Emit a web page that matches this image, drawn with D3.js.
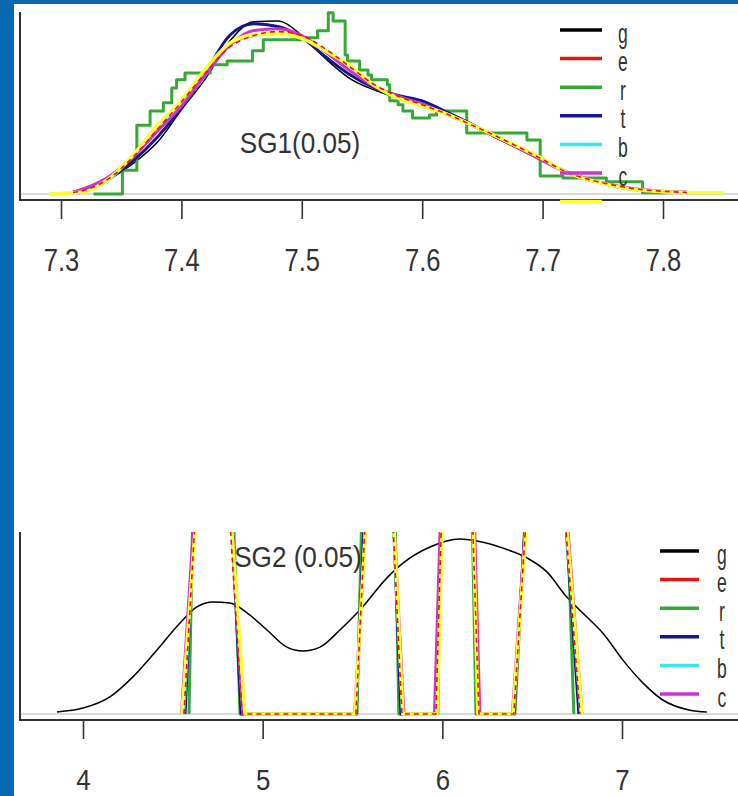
<!DOCTYPE html>
<html>
<head>
<meta charset="utf-8">
<script src="https://cdn.jsdelivr.net/npm/d3@7"></script>
<style>
  body { margin: 0; background: #0a68b0; }
  svg { display: block; }
</style>
</head>
<body>
<svg width="738" height="796"></svg>
<script>
// ---------- SG1 (top panel) ----------
var sg1Grid = [7.29, 7.30, 7.31, 7.32, 7.34, 7.36, 7.38, 7.40, 7.42, 7.44, 7.46, 7.48, 7.50, 7.52, 7.54, 7.56,
               7.58, 7.60, 7.62, 7.64, 7.66, 7.68, 7.70, 7.72, 7.74, 7.76, 7.78, 7.80, 7.82, 7.84, 7.85];
var sg1G = [null, null, 0.05, 0.12, 0.38, 0.78, 1.32, 2.15, 2.95, 3.90, 4.40, 4.42, 4.05, 3.45, 2.95, 2.66,
            2.45, 2.26, 2.03, 1.77, 1.45, 1.16, 0.86, 0.56, 0.36, 0.22, 0.12, 0.05, null, null, null];
var sg1E = [null, null, 0.04, 0.10, 0.40, 0.95, 1.65, 2.35, 3.10, 3.75, 4.05, 4.15, 4.05, 3.70, 3.25, 2.80,
            2.50, 2.28, 2.05, 1.78, 1.50, 1.20, 0.88, 0.56, 0.36, 0.22, 0.12, 0.07, 0.04, null, null];
var sg1T = [null, null, 0.05, 0.12, 0.40, 0.85, 1.45, 2.20, 3.10, 4.05, 4.35, 4.28, 4.00, 3.50, 3.05, 2.72,
            2.52, 2.38, 2.10, 1.80, 1.48, 1.17, 0.86, 0.56, 0.36, 0.20, 0.10, 0.05, null, null, null];
var sg1B = [0.00, 0.01, 0.03, 0.07, 0.38, 0.98, 1.72, 2.38, 3.15, 3.82, 4.05, 4.10, 3.98, 3.66, 3.26, 2.78,
            2.46, 2.25, 2.05, 1.78, 1.50, 1.20, 0.90, 0.56, 0.35, 0.20, 0.10, 0.06, 0.04, 0.03, 0.03];
var sg1C = [null, null, 0.05, 0.15, 0.45, 0.95, 1.60, 2.25, 3.05, 3.80, 4.18, 4.22, 4.05, 3.62, 3.15, 2.75,
            2.50, 2.30, 2.05, 1.78, 1.48, 1.18, 0.85, 0.55, 0.35, 0.22, 0.12, 0.07, 0.05, null, null];
var sg1Y = [0.00, 0.01, 0.03, 0.06, 0.40, 1.00, 1.75, 2.40, 3.20, 3.85, 4.07, 4.10, 3.98, 3.65, 3.28, 2.78,
            2.45, 2.25, 2.05, 1.78, 1.50, 1.20, 0.90, 0.55, 0.35, 0.20, 0.10, 0.06, 0.04, 0.03, 0.03];
// r is a step estimate
var sg1RX = [7.327, 7.351, 7.363, 7.374, 7.385, 7.392, 7.396, 7.403, 7.424, 7.438, 7.459, 7.468, 7.499, 7.513,
             7.522, 7.526, 7.536, 7.538, 7.548, 7.555, 7.558, 7.571, 7.573, 7.580, 7.584, 7.592, 7.606, 7.612,
             7.637, 7.662, 7.687, 7.698, 7.717, 7.753, 7.783, 7.806];
var sg1RY = [0, 0.61, 1.76, 2.12, 2.33, 2.71, 2.92, 3.09, 3.30, 3.40, 3.66, 3.94, 3.99, 4.17,
             4.63, 4.42, 3.55, 3.40, 3.17, 3.04, 2.92, 2.79, 2.38, 2.28, 2.12, 1.94, 2.02, 2.12,
             1.56, 1.56, 1.38, 0.46, 0.41, 0.31, 0.03, 0.03];
var sg1Ticks = [7.3, 7.4, 7.5, 7.6, 7.7, 7.8];

// ---------- SG2 (bottom panel) ----------
var sg2GX = [3.855, 4.0, 4.15, 4.278, 4.412, 4.540, 4.634, 4.723, 4.818, 4.913, 5.024, 5.135, 5.224, 5.319, 5.430, 5.541,
             5.692, 5.781, 5.931, 6.098, 6.193, 6.337, 6.471, 6.582, 6.693, 6.805, 6.894, 7.005, 7.116, 7.227, 7.378, 7.472];
var sg2GY = [0.006, 0.017, 0.049, 0.106, 0.183, 0.26, 0.306, 0.32, 0.317, 0.289, 0.24, 0.191, 0.18, 0.191, 0.24, 0.297,
             0.389, 0.431, 0.477, 0.50, 0.494, 0.474, 0.446, 0.406, 0.334, 0.277, 0.231, 0.154, 0.089, 0.04, 0.011, 0.006];
// the other estimators pile up in narrow blocks that run off the top of the panel
var sg2Level = [0, 0.6, 0.6, 0, 0, 0.6, 0.6, 0, 0, 0.6, 0.6, 0, 0, 0.6, 0.6, 0];
var sg2EX = [4.562, 4.629, 4.812, 4.885, 5.519, 5.575, 5.720, 5.775, 5.964, 5.998, 6.165, 6.204, 6.398, 6.471, 6.677, 6.766];
var sg2RX = [4.590, 4.612, 4.835, 4.874, 5.525, 5.553, 5.736, 5.758, 5.975, 5.992, 6.165, 6.187, 6.404, 6.465, 6.693, 6.732];
var sg2TX = [4.568, 4.623, 4.824, 4.880, 5.519, 5.570, 5.725, 5.770, 5.964, 5.995, 6.170, 6.200, 6.398, 6.468, 6.680, 6.760];
var sg2BX = [4.560, 4.630, 4.820, 4.890, 5.516, 5.578, 5.722, 5.778, 5.968, 6.000, 6.168, 6.200, 6.395, 6.473, 6.680, 6.770];
var sg2CX = [4.548, 4.623, 4.824, 4.890, 5.512, 5.580, 5.725, 5.786, 5.956, 5.992, 6.176, 6.209, 6.390, 6.471, 6.688, 6.777];
var sg2YX = [4.551, 4.634, 4.818, 4.901, 5.514, 5.580, 5.725, 5.781, 5.970, 6.003, 6.170, 6.198, 6.393, 6.476, 6.682, 6.777];
var sg2Ticks = [4, 5, 6, 7];

var legendLabels = ["g", "e", "r", "t", "b", "c"];
var colors = { g: "#000000", e: "#e01515", r: "#35a835", t: "#15158f", b: "#35e8ee", c: "#cc35cc", y: "#ffff30" };
var widths = { g: 1.5, e: 1.6, r: 3, t: 3, b: 3, c: 3, y: 3.5 };
var dashes = { e: "5,4" };
var font = "'Liberation Sans', Arial, sans-serif";

var svg = d3.select("svg");

svg.append("rect").attr("width", 738).attr("height", 796).attr("fill", "#0a68b0");
svg.append("rect").attr("x", 14).attr("y", 4).attr("width", 724).attr("height", 792).attr("fill", "#ffffff");

function zip(xs, ys) {
    return xs.map(function (v, i) { return [v, ys[i]]; });
}

function drawPanel(p) {
    var g = svg.append("g");

    // zero line
    g.append("line")
        .attr("x1", 20).attr("x2", 738)
        .attr("y1", p.y(0)).attr("y2", p.y(0))
        .attr("stroke", "#b4b4b4").attr("stroke-width", 1);

    // axes
    g.append("line")
        .attr("x1", 20).attr("x2", 20)
        .attr("y1", p.top).attr("y2", p.axisY)
        .attr("stroke", "#333").attr("stroke-width", 2);
    g.append("line")
        .attr("x1", 19).attr("x2", 738)
        .attr("y1", p.axisY).attr("y2", p.axisY)
        .attr("stroke", "#333").attr("stroke-width", 2);

    var axis = d3.axisBottom(p.x).tickValues(p.ticks).tickSize(p.tickLen).tickSizeOuter(0)
        .tickFormat(d3.format(p.fmt));
    var ax = g.append("g")
        .attr("transform", "translate(0," + p.axisY + ")")
        .call(axis)
        .attr("color", "#333")
        .attr("font-family", font)
        .attr("font-size", p.tickFont);
    ax.select(".domain").remove();
    ax.selectAll(".tick line").attr("stroke-width", 1.6);
    ax.selectAll(".tick text")
        .attr("y", p.labelDy).attr("dy", null)
        .attr("fill", "#333")
        .attr("transform", "scale(" + p.labelSx + ",1)");

    // curves
    var plot = g.append("g");
    if (p.clip) plot.attr("clip-path", "url(#" + p.clip + ")");
    p.series.forEach(function (s) {
        var line = d3.line()
            .defined(function (d) { return d[1] != null; })
            .x(function (d) { return p.x(d[0]); })
            .y(function (d) { return p.y(d[1]); })
            .curve(s.curve || d3.curveLinear);
        plot.append("path")
            .datum(zip(s.xs, s.ys))
            .attr("d", line)
            .attr("fill", "none")
            .attr("stroke", colors[s.key])
            .attr("stroke-width", widths[s.key])
            .attr("stroke-dasharray", dashes[s.key] || null)
            .attr("stroke-linejoin", "round");
    });

    // title
    g.append("text")
        .attr("transform", "translate(" + p.titleX + "," + p.titleY + ") scale(0.87,1)")
        .attr("text-anchor", "middle")
        .attr("font-family", font).attr("font-size", 30)
        .attr("fill", "#333")
        .text(p.title);

    // legend (R draws a 7th, unlabelled yellow row in the top panel)
    var keys = ["g", "e", "r", "t", "b", "c", "y"].slice(0, p.legendRows);
    var lg = g.append("g");
    keys.forEach(function (k, i) {
        var ly = p.legendTop + i * 28.6;
        lg.append("line")
            .attr("x1", p.legendX).attr("x2", p.legendX + p.legendW)
            .attr("y1", ly).attr("y2", ly)
            .attr("stroke", colors[k]).attr("stroke-width", 3.5);
        if (legendLabels[i]) {
            lg.append("text")
                .attr("transform", "translate(" + p.labelX + "," + (ly + 12.5) + ") scale(0.65,1)")
                .attr("text-anchor", "middle")
                .attr("font-family", font).attr("font-size", 27)
                .attr("fill", "#333")
                .text(legendLabels[i]);
        }
    });
}

var x1 = d3.scaleLinear().domain([7.3, 7.8]).range([61, 663]);
var y1 = d3.scaleLinear().domain([0, 4.6]).range([194, 14]);

drawPanel({
    x: x1, y: y1, top: 12, axisY: 200, tickLen: 19, ticks: sg1Ticks, fmt: ".1f",
    tickFont: 32, labelDy: 71, labelSx: 0.8,
    title: "SG1(0.05)", titleX: 300, titleY: 153,
    legendTop: 30, legendX: 560, legendW: 42, labelX: 623, legendRows: 7,
    series: [
        { key: "g", xs: sg1Grid, ys: sg1G, curve: d3.curveMonotoneX },
        { key: "r", xs: sg1RX, ys: sg1RY, curve: d3.curveStepAfter },
        { key: "t", xs: sg1Grid, ys: sg1T, curve: d3.curveMonotoneX },
        { key: "b", xs: sg1Grid, ys: sg1B, curve: d3.curveMonotoneX },
        { key: "c", xs: sg1Grid, ys: sg1C, curve: d3.curveMonotoneX },
        { key: "y", xs: sg1Grid, ys: sg1Y, curve: d3.curveMonotoneX },
        { key: "e", xs: sg1Grid, ys: sg1E, curve: d3.curveMonotoneX }
    ]
});

svg.append("clipPath").attr("id", "clip2")
    .append("rect").attr("x", 20).attr("y", 532).attr("width", 718).attr("height", 190);

var x2 = d3.scaleLinear().domain([4, 7]).range([83, 622]);
var y2 = d3.scaleLinear().domain([0, 0.52]).range([714, 532]);

drawPanel({
    x: x2, y: y2, top: 532, axisY: 720, tickLen: 19, ticks: sg2Ticks, fmt: "d",
    tickFont: 30, labelDy: 70, labelSx: 0.86, clip: "clip2",
    title: "SG2 (0.05)", titleX: 298, titleY: 567,
    legendTop: 551, legendX: 660, legendW: 39, labelX: 722, legendRows: 6,
    series: [
        { key: "g", xs: sg2GX, ys: sg2GY, curve: d3.curveMonotoneX },
        { key: "r", xs: sg2RX, ys: sg2Level },
        { key: "t", xs: sg2TX, ys: sg2Level },
        { key: "b", xs: sg2BX, ys: sg2Level },
        { key: "c", xs: sg2CX, ys: sg2Level },
        { key: "y", xs: sg2YX, ys: sg2Level },
        { key: "e", xs: sg2EX, ys: sg2Level }
    ]
});
</script>
</body>
</html>
